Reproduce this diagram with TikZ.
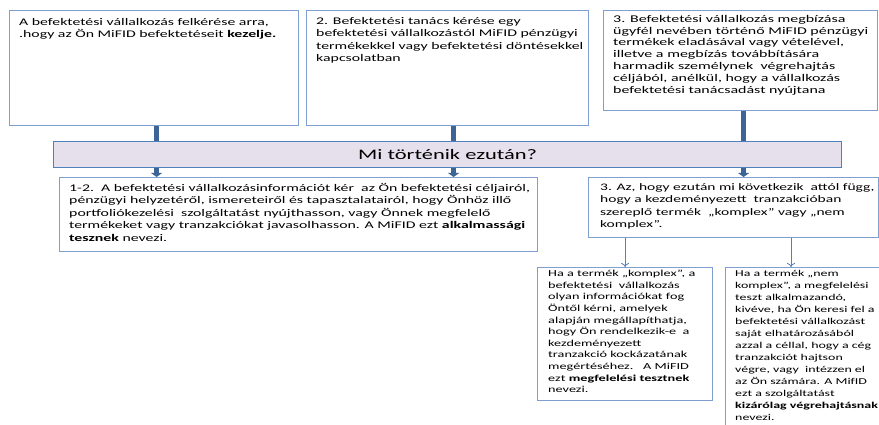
\documentclass[tikz,border=0pt]{standalone}
\usepackage{fontspec}
\setmainfont{Carlito}[FakeStretch=1.55]
\usetikzlibrary{arrows.meta}
\definecolor{boxline}{HTML}{7E9FD0}
\definecolor{banline}{HTML}{4F81BD}
\definecolor{banfill}{HTML}{E5E0EC}
\definecolor{barcol}{HTML}{3C6496}
\definecolor{thinarr}{HTML}{4F81BD}
\begin{document}
\begin{tikzpicture}[x=1pt,y=-1pt,
  box/.style={draw=boxline, line width=1.2pt, rectangle, inner sep=0pt, anchor=north west},
  txt/.style={anchor=north west, inner sep=0pt, align=left},
  bar/.style={draw=barcol, line width=5pt},
  bararrow/.style={draw=barcol, line width=5pt, -{Triangle[width=11pt,length=4pt]}},
  thinarrow/.style={draw=thinarr, line width=0.8pt, -{To[width=8pt,length=4pt]}},
]
\useasboundingbox (0,0) rectangle (879,425);
\clip (0,0) rectangle (879,425);
\fill[white] (0,0) rectangle (879,425);

% top boxes
\node[box, minimum width=289pt, minimum height=115pt] (b1) at (9,10) {};
\node[box, minimum width=282pt, minimum height=115pt] (b2) at (306,10) {};
\node[box, minimum width=274pt, minimum height=100pt] (b3) at (603,10) {};

% banner
\node[draw=banline, fill=banfill, line width=1.2pt, inner sep=0pt, anchor=north west,
      minimum width=788pt, minimum height=26pt] (ban) at (53,141) {};
\node[font=\fontsize{14.5}{17}\selectfont, inner sep=0pt] (bantxt) at (ban.center) {Mi történik ezután?};

% lower boxes
\node[box, minimum width=478pt, minimum height=74pt] (b4) at (59,177) {};
\node[box, minimum width=290pt, minimum height=60pt] (b5) at (588,177) {};
\node[box, minimum width=175pt, minimum height=133pt] (b6) at (537,267) {};
\node[box, minimum width=175pt, minimum height=175pt] (b7) at (725,267) {};

% connectors
\draw[bar] ([xshift=2.5pt]b1.south) -- ([xshift=2.5pt]b1.south |- ban.north);
\draw[bar] ([xshift=6pt]b2.south) -- ([xshift=6pt]b2.south |- ban.north);
\draw[bar] ([xshift=3pt]b3.south) -- ([xshift=3pt]b3.south |- ban.north);
\draw[bararrow] ([xshift=2.5pt]b1.south |- ban.south) -- ([xshift=2.5pt]b1.south |- b4.north);
\draw[bararrow] ([xshift=6pt]b2.south |- ban.south) -- ([xshift=6pt]b2.south |- b4.north);
\draw[bararrow] ([xshift=3pt]b3.south |- ban.south) -- ([xshift=3pt]b3.south |- b5.north);
\draw[thinarrow] (b6.north |- b5.south) -- (b6.north);
\coordinate (c7) at ([xshift=66pt]b7.north west);
\draw[thinarrow] (c7 |- b5.south) -- (c7);

% texts
\node[txt, font=\fontsize{10.2}{12.3}\selectfont] (t1) at ([xshift=10pt,yshift=-8pt]b1.north west)
 {A befektetési vállalkozás felkérése arra,\\
  .hogy az Ön MiFID befektetéseit \textbf{kezelje.}};
\node[txt, font=\fontsize{10.2}{12.4}\selectfont] (t2) at ([xshift=10pt,yshift=-7pt]b2.north west)
 {2. Befektetési tanács kérése egy\\
  befektetési vállalkozástól MiFID pénzügyi\\
  termékekkel vagy befektetési döntésekkel\\
  kapcsolatban};
\node[txt, font=\fontsize{10.3}{11.8}\selectfont] (t3) at ([xshift=10pt,yshift=-5pt]b3.north west)
 {3. Befektetési vállalkozás megbízása\\
  ügyfél nevében történő MiFID pénzügyi\\
  termékek eladásával vagy vételével,\\
  illetve a megbízás továbbítására\\
  harmadik személynek\ \ végrehajtás\\
  céljából, anélkül, hogy a vállalkozás\\
  befektetési tanácsadást nyújtana};
\node[txt, font=\fontsize{10.2}{12.5}\selectfont] (t4) at ([xshift=10pt,yshift=-6pt]b4.north west)
 {1-2.\ \ A befektetési vállalkozásinformációt kér\ \ az Ön befektetési céljairól,\\
  pénzügyi helyzetéről, ismereteiről és tapasztalatairól, hogy Önhöz illő\\
  portfoliókezelési\ \ szolgáltatást nyújthasson, vagy Önnek megfelelő\\
  termékeket vagy tranzakciókat javasolhasson. A MiFID ezt \textbf{alkalmassági}\\
  \textbf{tesznek} nevezi.};
\node[txt, font=\fontsize{10}{12.5}\selectfont] (t5) at ([xshift=12pt,yshift=-6pt]b5.north west)
 {3. Az, hogy ezután mi következik\ \ attól függ,\\
  hogy a kezdeményezett\ \ tranzakcióban\\
  szereplő termék\ \ „komplex” vagy „nem\\
  komplex”.};
\node[txt, font=\fontsize{9.2}{11.6}\selectfont] (t6) at ([xshift=11pt,yshift=-3pt]b6.north west)
 {Ha a termék „komplex”, a\\
  befektetési\ \ vállalkozás\\
  olyan információkat fog\\
  Öntől kérni, amelyek\\
  alapján megállapíthatja,\\
  hogy Ön rendelkezik-e\ \ a\\
  kezdeményezett\\
  tranzakció kockázatának\\
  megértéséhez.\ \ \ A MiFID\\
  ezt \textbf{megfelelési tesztnek}\\
  nevezi.};
\node[txt, font=\fontsize{9.0}{12}\selectfont] (t7) at ([xshift=10pt,yshift=-3pt]b7.north west)
 {Ha a termék „nem\\
  komplex”, a megfelelési\\
  teszt alkalmazandó,\\
  kivéve, ha Ön keresi fel a\\
  befektetési vállalkozást\\
  saját elhatározásából\\
  azzal a céllal, hogy a cég\\
  tranzakciót hajtson\\
  végre, vagy\ \ intézzen el\\
  az Ön számára. A MifID\\
  ezt a szolgáltatást\\
  \textbf{kizárólag végrehajtásnak}\\
  nevezi.};
\end{tikzpicture}
\end{document}
